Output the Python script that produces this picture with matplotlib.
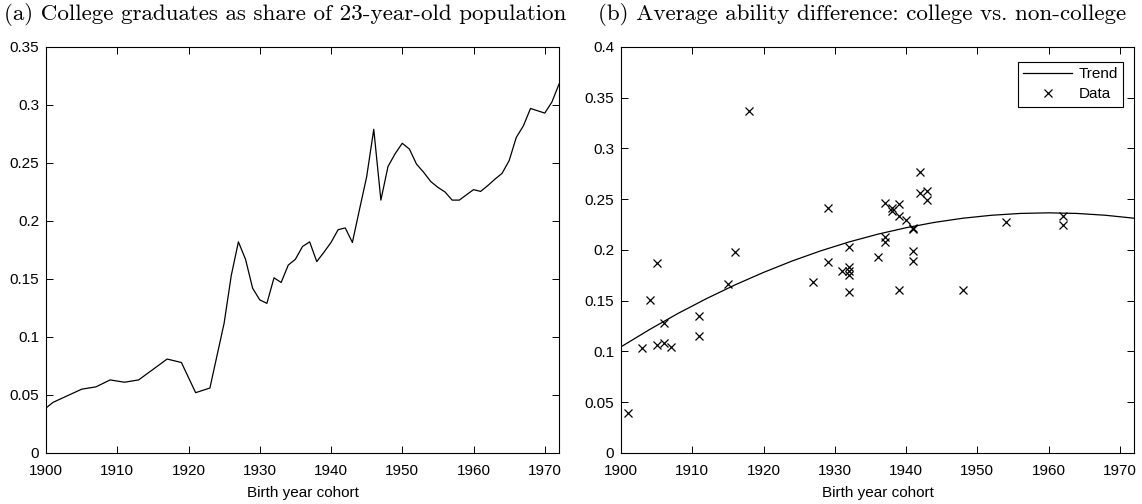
import numpy as np
import matplotlib.pyplot as plt

# ── data ──────────────────────────────────────────────────────────────────────

share_years = [1900, 1901, 1905, 1907, 1909, 1911, 1913, 1917, 1919, 1921, 1923,
               1925, 1926, 1927, 1928, 1929, 1930, 1931, 1932, 1933, 1934, 1935,
               1936, 1937, 1938, 1939, 1940, 1941, 1942, 1943, 1944, 1945, 1946,
               1947, 1948, 1949, 1950, 1951, 1952, 1953, 1954, 1955, 1956, 1957,
               1958, 1959, 1960, 1961, 1962, 1963, 1964, 1965, 1966, 1967, 1968,
               1969, 1970, 1971, 1972]
share_vals = [0.0388, 0.0437, 0.055, 0.057, 0.063, 0.061, 0.063, 0.081, 0.078,
              0.052, 0.056, 0.112, 0.153, 0.182, 0.167, 0.142, 0.132, 0.129,
              0.151, 0.147, 0.162, 0.167, 0.178, 0.182, 0.165, 0.173, 0.1815,
              0.1925, 0.194, 0.1815, 0.210, 0.238, 0.279, 0.218, 0.247, 0.258,
              0.267, 0.262, 0.249, 0.242, 0.234, 0.229, 0.225, 0.218, 0.218,
              0.2225, 0.227, 0.2255, 0.2305, 0.236, 0.241, 0.252, 0.272, 0.282,
              0.297, 0.295, 0.293, 0.3025, 0.318]

data_years = [1901, 1903, 1904, 1905, 1905, 1906, 1906, 1907, 1911, 1911, 1915,
              1916, 1918, 1927, 1929, 1929, 1931, 1932, 1932, 1932, 1932, 1932,
              1936, 1937, 1937, 1937, 1938, 1938, 1939, 1939, 1939, 1940, 1941,
              1941, 1941, 1941, 1942, 1942, 1943, 1943, 1948, 1954, 1962, 1962]
data_vals = [0.0395, 0.103, 0.151, 0.187, 0.1066, 0.128, 0.1086, 0.104, 0.135,
             0.115, 0.166, 0.198, 0.337, 0.168, 0.241, 0.188, 0.179, 0.203,
             0.183, 0.179, 0.1757, 0.159, 0.1934, 0.2467, 0.2128, 0.208, 0.241,
             0.238, 0.245, 0.2335, 0.1605, 0.2296, 0.2214, 0.2205, 0.199,
             0.1888, 0.277, 0.2566, 0.2586, 0.2493, 0.1605, 0.2276, 0.2336,
             0.2243]

trend_years = [1900, 1904, 1908, 1912, 1916, 1920, 1924, 1928, 1932, 1936, 1940,
               1944, 1948, 1952, 1956, 1960, 1964, 1968, 1972]
trend_vals = [0.1046, 0.1216, 0.1375, 0.1521, 0.1656, 0.1779, 0.1891, 0.1991,
              0.2079, 0.2155, 0.2219, 0.2272, 0.2313, 0.2342, 0.2360, 0.2366,
              0.2360, 0.2342, 0.2313]

x_ticks = [1900, 1910, 1920, 1930, 1940, 1950, 1960, 1970]
left_yticks = [0, 0.05, 0.1, 0.15, 0.2, 0.25, 0.3, 0.35]
left_ylabels = ["0", "0.05", "0.1", "0.15", "0.2", "0.25", "0.3", "0.35"]
right_yticks = [0, 0.05, 0.1, 0.15, 0.2, 0.25, 0.3, 0.35, 0.4]
right_ylabels = ["0", "0.05", "0.1", "0.15", "0.2", "0.25", "0.3", "0.35", "0.4"]

# ── figure ────────────────────────────────────────────────────────────────────

plt.rcParams["font.family"] = ["Liberation Sans", "DejaVu Sans"]

fig = plt.figure(figsize=(11.42, 5.04), dpi=100)
ax1 = fig.add_axes([0.0403, 0.1012, 0.4492, 0.8056])
ax2 = fig.add_axes([0.5438, 0.1012, 0.4492, 0.8056])


def style(ax, yticks, ylabels, ymax):
    ax.set_xlim(1900, 1972)
    ax.set_ylim(0, ymax)
    ax.set_xticks(x_ticks)
    ax.set_xticklabels([str(t) for t in x_ticks])
    ax.set_yticks(yticks)
    ax.set_yticklabels(ylabels)
    ax.tick_params(direction="in", top=True, right=True, length=5, width=0.7,
                   labelsize=11, colors="black")
    ax.tick_params(axis="x", pad=8)
    ax.tick_params(axis="y", pad=5)
    for s in ax.spines.values():
        s.set_linewidth(0.8)
    ax.set_xlabel("Birth year cohort", fontsize=11, labelpad=6)


# plot (a)
ax1.plot(share_years, share_vals, color="black", lw=0.9)
style(ax1, left_yticks, left_ylabels, 0.35)

# plot (b)
ax2.plot(trend_years, trend_vals, color="black", lw=0.9, label="Trend")
ax2.plot(data_years, data_vals, ls="none", marker="x", ms=6, mew=0.9,
         color="black", label="Data")
style(ax2, right_yticks, right_ylabels, 0.4)
leg = ax2.legend(loc="upper right", bbox_to_anchor=(0.9786, 0.963),
                 fancybox=False, edgecolor="black", framealpha=1, fontsize=11,
                 handlelength=3.2, borderaxespad=0, borderpad=0.35,
                 labelspacing=0.4, handletextpad=0.4)
leg.get_frame().set_linewidth(0.8)

fig.text(0.2496, 0.972, "(a) College graduates as share of 23-year-old population",
         family="cmr10", fontsize=16.6, ha="center", va="center")
fig.text(0.755, 0.972, "(b) Average ability difference: college vs. non-college",
         family="cmr10", fontsize=16.6, ha="center", va="center")

fig.savefig("out.png", dpi=100)
